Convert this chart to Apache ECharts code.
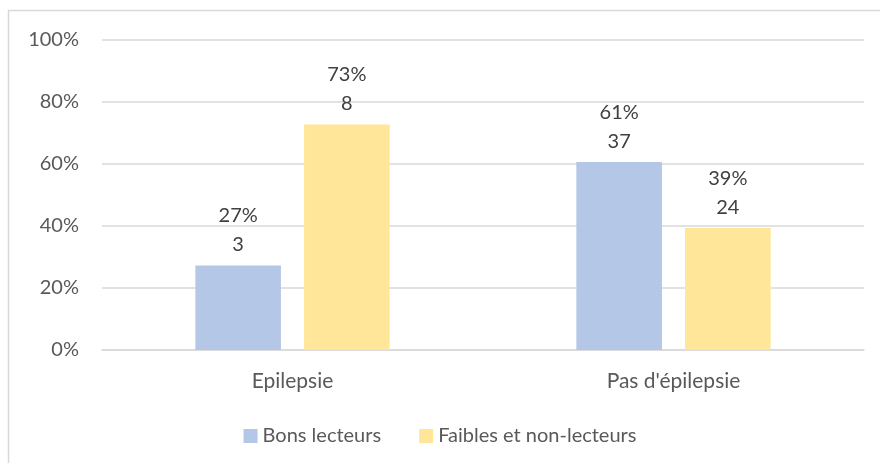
<!DOCTYPE html>
<html>
<head>
<meta charset="utf-8">
<script src="https://cdn.jsdelivr.net/npm/echarts@6/dist/echarts.min.js"></script>
<style>
  html, body { margin: 0; padding: 0; background: #fff; }
  #main { width: 880px; height: 463px; }
</style>
</head>
<body>
<div id="main"></div>
<script>
var categories = ["Epilepsie", "Pas d'épilepsie"];
var seriesNames = ["Bons lecteurs", "Faibles et non-lecteurs"];
var bonsCounts = [3, 37];
var faiblesCounts = [8, 24];
var bonsPct = [27.27, 60.66];
var faiblesPct = [72.73, 39.34];
var bonsLabels = ["27%", "61%"];
var faiblesLabels = ["73%", "39%"];

var myChart = echarts.init(document.getElementById("main"));

function labelFor(pctLabels, counts) {
  return {
    show: true,
    position: "top",
    distance: 6,
    color: "#404040",
    fontSize: 20,
    fontFamily: "Lato",
    lineHeight: 29,
    formatter: function(p) {
      return pctLabels[p.dataIndex] + "\n" + counts[p.dataIndex];
    }
  };
}

var option = {
  animation: false,
  backgroundColor: "#fff",
  textStyle: { fontFamily: "Lato" },
  graphic: [
    {
      type: "rect",
      shape: { x: 8.5, y: 10.5, width: 900, height: 500 },
      style: { fill: "none", stroke: "#d9d9d9", lineWidth: 1.5 },
      silent: true
    }
  ],
  grid: { left: 102, right: 16, top: 40, bottom: 113 },
  legend: {
    bottom: 12,
    left: "center",
    itemWidth: 14,
    itemHeight: 14,
    itemGap: 38,
    icon: "rect",
    textStyle: { color: "#595959", fontSize: 20, fontFamily: "Lato" },
    data: seriesNames
  },
  xAxis: {
    type: "category",
    data: categories,
    axisTick: { show: false },
    axisLine: { lineStyle: { color: "#d9d9d9", width: 1.5 } },
    axisLabel: { color: "#595959", fontSize: 21, margin: 21 }
  },
  yAxis: {
    type: "value",
    min: 0,
    max: 100,
    interval: 20,
    axisLabel: { color: "#595959", fontSize: 20, margin: 23, formatter: "{value}%" },
    splitLine: { lineStyle: { color: "#d9d9d9", width: 1.5 } },
    axisLine: { show: false },
    axisTick: { show: false }
  },
  series: [
    {
      name: seriesNames[0],
      type: "bar",
      data: bonsPct,
      barGap: "27%",
      barCategoryGap: "49%",
      itemStyle: { color: "#B4C7E7" },
      label: labelFor(bonsLabels, bonsCounts)
    },
    {
      name: seriesNames[1],
      type: "bar",
      data: faiblesPct,
      itemStyle: { color: "#FFE699" },
      label: labelFor(faiblesLabels, faiblesCounts)
    }
  ]
};
myChart.setOption(option);
</script>
</body>
</html>
